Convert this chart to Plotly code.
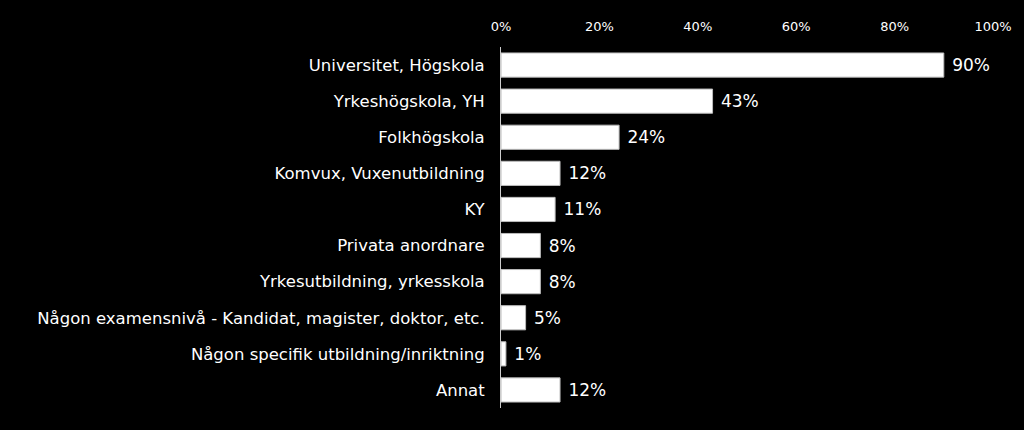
import plotly.graph_objects as go

categories = [
    "Universitet, Högskola",
    "Yrkeshögskola, YH",
    "Folkhögskola",
    "Komvux, Vuxenutbildning",
    "KY",
    "Privata anordnare",
    "Yrkesutbildning, yrkesskola",
    "Någon examensnivå - Kandidat, magister, doktor, etc.",
    "Någon specifik utbildning/inriktning",
    "Annat",
]
values = [90, 43, 24, 12, 11, 8, 8, 5, 1, 12]
tick_vals = [0, 20, 40, 60, 80, 100]
tick_text = ["0%", "20%", "40%", "60%", "80%", "100%"]

FONT = "DejaVu Sans"

fig = go.Figure(
    go.Bar(
        x=values,
        y=categories,
        orientation="h",
        marker=dict(color="white", line=dict(color="#bbbbbb", width=1)),
        text=[f" {v}%" for v in values],
        textposition="outside",
        textfont=dict(color="white", size=17, family=FONT),
        cliponaxis=False,
        width=0.67,
    )
)

fig.update_layout(
    width=1024,
    height=430,
    paper_bgcolor="black",
    plot_bgcolor="black",
    margin=dict(l=501, r=31, t=47, b=22),
    showlegend=False,
    font=dict(family=FONT, color="white"),
    xaxis=dict(
        side="top",
        range=[0, 100],
        tickvals=tick_vals,
        ticktext=tick_text,
        tickfont=dict(size=13, color="white", family=FONT),
        showgrid=False,
        zeroline=False,
        showline=False,
        ticks="",
        ticklabelstandoff=12,
    ),
    yaxis=dict(
        autorange="reversed",
        tickfont=dict(size=16.5, color="white", family=FONT),
        showgrid=False,
        zeroline=False,
        showline=True,
        linecolor="#cccccc",
        linewidth=1,
        ticks="",
        ticklabelstandoff=12,
    ),
)

fig.write_html(
    "out.html",
    config={"displayModeBar": False},
    post_script=(
        "document.body.style.margin='0';"
        "document.body.style.background='black';"
        "document.body.style.overflow='hidden';"
    ),
)
